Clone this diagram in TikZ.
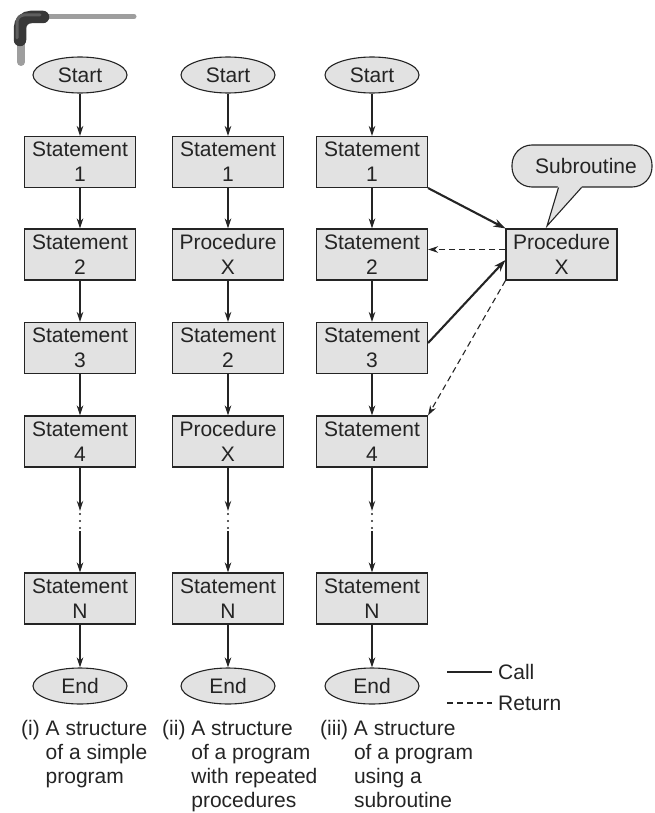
\documentclass[tikz,border=0pt]{standalone}
\usepackage{fontspec}
\setmainfont{Liberation Sans}
\usetikzlibrary{shapes.geometric,arrows.meta}
\definecolor{boxfill}{gray}{0.885}
\definecolor{ink}{gray}{0.14}
\definecolor{barlight}{gray}{0.62}
\definecolor{bardark}{gray}{0.22}
\begin{document}
\begin{tikzpicture}[x=1pt,y=-1pt,
  font=\fontsize{21}{25}\selectfont, text=ink,
  stmt/.style={draw=ink, fill=boxfill, line width=1.1pt, minimum width=111pt,
    minimum height=51pt, inner sep=0pt, align=center},
  term/.style={ellipse, draw=ink, fill=boxfill, line width=1.1pt,
    minimum width=94pt, minimum height=36pt, inner sep=0pt},
  flow/.style={draw=ink, line width=1.1pt, -{Stealth[length=10pt,width=6.5pt]}},
  callarrow/.style={draw=ink, line width=2.1pt, -{Stealth[length=12pt,width=8pt]}},
  retarrow/.style={draw=ink, line width=1.1pt, dash pattern=on 6pt off 4pt,
    -{Stealth[length=10pt,width=6.5pt]}},
  gapnode/.style={inner sep=0pt, minimum width=4pt, minimum height=20pt},
  caption/.style={anchor=base west, inner sep=0pt, font=\fontsize{21}{24}\selectfont},
  legend/.style={anchor=west, inner sep=0pt},
]
\useasboundingbox (0,0) rectangle (654,813);

% corner ornament
\draw[barlight, line width=5pt, line cap=round] (40,16.5) -- (134,16.5);
\draw[barlight, line width=8pt, line cap=round] (21,38) -- (21,62);
\draw[bardark, line width=12.5pt, line cap=round, rounded corners=11pt]
  (20,40) -- (20,17) -- (43,17);
\draw[gray!55!bardark, line width=3pt, line cap=round, rounded corners=7pt]
  (17,38) -- (17,15) -- (40,15);

% column (i)
\node[term] (a0) at (80,75)    {Start};
\node[stmt] (a1) at (80,162)   {Statement\\1};
\node[stmt] (a2) at (80,254.5) {Statement\\2};
\node[stmt] (a3) at (80,348)   {Statement\\3};
\node[stmt] (a4) at (80,441.5) {Statement\\4};
\node[gapnode] (ag) at (80,521) {};
\node[stmt] (aN) at (80,598.5) {Statement\\N};
\node[term] (aE) at (80,686)   {End};

% column (ii)
\node[term] (b0) at (228,75)    {Start};
\node[stmt] (b1) at (228,162)   {Statement\\1};
\node[stmt] (b2) at (228,254.5) {Procedure\\X};
\node[stmt] (b3) at (228,348)   {Statement\\2};
\node[stmt] (b4) at (228,441.5) {Procedure\\X};
\node[gapnode] (bg) at (228,521) {};
\node[stmt] (bN) at (228,598.5) {Statement\\N};
\node[term] (bE) at (228,686)   {End};

% column (iii)
\node[term] (c0) at (372,75)    {Start};
\node[stmt] (c1) at (372,162)   {Statement\\1};
\node[stmt] (c2) at (372,254.5) {Statement\\2};
\node[stmt] (c3) at (372,348)   {Statement\\3};
\node[stmt] (c4) at (372,441.5) {Statement\\4};
\node[gapnode] (cg) at (372,521) {};
\node[stmt] (cN) at (372,598.5) {Statement\\N};
\node[term] (cE) at (372,686)   {End};

% subroutine
\node[stmt] (px) at (561.5,254.5) {Procedure\\X};
\node[draw=ink, fill=boxfill, line width=1.1pt, rounded corners=20pt,
  minimum width=140pt, minimum height=42pt, inner sep=0pt] (sub) at (582,166) {\hspace*{8pt}Subroutine};
\fill[boxfill] ([xshift=-24pt,yshift=1.5pt]sub.south) -- (547,226) -- ([xshift=0pt,yshift=1.5pt]sub.south) -- cycle;
\draw[ink, line width=1.1pt, line join=miter]
  ([xshift=-23.5pt]sub.south) -- (547,226) -- ([xshift=-0.5pt]sub.south);

% vertical flow
\foreach \c in {a,b,c}{
  \draw[flow] (\c0) -- (\c1);
  \draw[flow] (\c1) -- (\c2);
  \draw[flow] (\c2) -- (\c3);
  \draw[flow] (\c3) -- (\c4);
  \draw[flow] (\c4) -- (\c g.north);
  \draw[flow] (\c g.south) -- (\c N);
  \draw[flow] (\c N) -- (\c E);
  \fill[ink] ([yshift=7pt]\c g.center) circle (1.1pt)
             (\c g.center) circle (1.1pt)
             ([yshift=-7pt]\c g.center) circle (1.1pt);
}

% calls and returns
\draw[callarrow] (c1.south east) -- (px.north west);
\draw[callarrow] ([yshift=5pt]c3.east) -- ([yshift=-5.5pt]px.west);
\draw[retarrow] ([yshift=5pt]px.west) -- ([yshift=5pt]c2.east);
\draw[retarrow] (px.south west) -- (c4.north east);

% legend
\node[legend] (lcall) at (498,672) {Call};
\node[legend] (lret)  at (498,703) {Return};
\coordinate (lcallstart) at (447,672);
\coordinate (lretstart)  at (447,703);
\draw[ink, line width=2.1pt] (lcallstart) -- ([xshift=-6pt]lcall.west);
\draw[ink, line width=1.1pt, dash pattern=on 6pt off 4pt] (lretstart) -- ([xshift=-6pt]lret.west);

% captions
\node[caption] (capi) at (21,735.5)
  {\begin{tabular}[t]{@{}l@{\ }l@{}}(i)&A structure\\ &of a simple\\ &program\end{tabular}};
\node[caption] (capii) at (162,735.5)
  {\begin{tabular}[t]{@{}l@{\ }l@{}}(ii)&A structure\\ &of a program\\ &with repeated\\ &procedures\end{tabular}};
\node[caption] (capiii) at (320,735.5)
  {\begin{tabular}[t]{@{}l@{\ }l@{}}(iii)&A structure\\ &of a program\\ &using a\\ &subroutine\end{tabular}};
\end{tikzpicture}
\end{document}
